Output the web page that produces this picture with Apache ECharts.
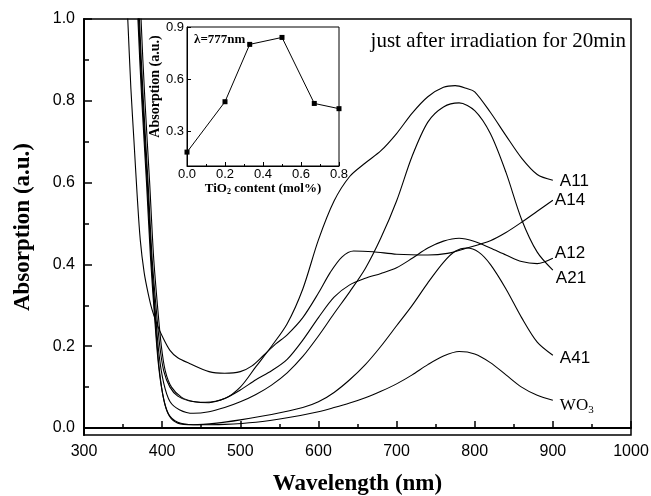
<!DOCTYPE html>
<html>
<head>
<meta charset="utf-8">
<script src="https://cdn.jsdelivr.net/npm/echarts@6.0.0/dist/echarts.min.js"></script>
<style>
  html, body { margin: 0; padding: 0; background: #fff; }
  #main { width: 651px; height: 496px; }
</style>
</head>
<body>
<div id="main"></div>
<script>
// spectra: [wavelength nm, absorption a.u.]
var a11 = [[366,1.3],[371,1.0],[376,0.8],[382,0.6],[387,0.42],[392,0.3],[397,0.2],[402,0.14],[410,0.1],[420,0.078],[435,0.066],[455,0.063],[480,0.072],[500,0.1],[520,0.15],[540,0.2],[560,0.255],[580,0.34],[600,0.46],[620,0.555],[640,0.615],[660,0.648],[680,0.678],[700,0.72],[720,0.77],[740,0.81],[760,0.833],[775,0.837],[790,0.83],[800,0.822],[820,0.772],[840,0.715],[860,0.66],[880,0.62],[900,0.606]];
var a14 = [[350,1.25],[356,1.0],[360,0.83],[364,0.7],[368,0.57],[372,0.46],[377,0.38],[382,0.33],[387,0.29],[393,0.256],[400,0.225],[410,0.19],[420,0.172],[435,0.158],[460,0.138],[480,0.134],[500,0.138],[515,0.152],[530,0.178],[545,0.205],[560,0.228],[580,0.27],[600,0.33],[615,0.38],[630,0.418],[645,0.433],[670,0.431],[700,0.425],[740,0.423],[765,0.427],[790,0.44],[820,0.458],[840,0.478],[860,0.503],[880,0.53],[900,0.557]];
var a12 = [[368,1.3],[373,1.0],[378,0.8],[384,0.6],[389,0.42],[394,0.3],[399,0.2],[404,0.14],[412,0.1],[425,0.075],[440,0.065],[460,0.062],[480,0.072],[500,0.093],[520,0.118],[540,0.14],[560,0.168],[580,0.215],[600,0.27],[620,0.32],[640,0.35],[660,0.366],[680,0.378],[700,0.392],[720,0.415],[740,0.44],[760,0.457],[780,0.464],[800,0.456],[820,0.44],[840,0.423],[860,0.407],[880,0.402],[900,0.415]];
var a21 = [[365,1.3],[370,1.0],[375,0.8],[381,0.6],[386,0.42],[391,0.29],[396,0.18],[402,0.11],[410,0.065],[422,0.045],[440,0.036],[460,0.04],[480,0.05],[500,0.064],[520,0.082],[540,0.105],[560,0.135],[580,0.175],[600,0.225],[620,0.28],[640,0.333],[660,0.39],[680,0.465],[700,0.555],[720,0.665],[740,0.748],[760,0.785],[780,0.795],[800,0.776],[820,0.72],[840,0.625],[860,0.51],[880,0.43],[900,0.386]];
var a41 = [[364,1.3],[369,1.0],[374,0.8],[380,0.6],[385,0.42],[390,0.28],[395,0.16],[401,0.08],[408,0.035],[420,0.014],[440,0.008],[470,0.012],[500,0.02],[540,0.033],[580,0.05],[600,0.064],[620,0.087],[640,0.118],[660,0.155],[680,0.2],[700,0.25],[720,0.3],[740,0.355],[760,0.405],[775,0.432],[790,0.44],[805,0.43],[820,0.4],[840,0.34],[860,0.27],[880,0.21],[900,0.178]];
var wo3 = [[365,1.3],[370,1.0],[375,0.8],[381,0.6],[386,0.42],[391,0.27],[396,0.15],[402,0.07],[409,0.03],[420,0.012],[440,0.008],[480,0.009],[520,0.014],[560,0.025],[600,0.04],[620,0.05],[640,0.061],[660,0.074],[680,0.09],[700,0.108],[720,0.13],[740,0.155],[760,0.176],[780,0.187],[800,0.181],[820,0.16],[840,0.13],[860,0.1],[880,0.08],[900,0.068]];

// inset: absorption at 777 nm vs TiO2 content
var tio2 = [0, 0.2, 0.33, 0.5, 0.67, 0.8];
var abs777 = [0.18, 0.47, 0.80, 0.84, 0.46, 0.43];

var yMajor = [0, 0.2, 0.4, 0.6, 0.8, 1.0];
var yMinor = [0.1, 0.3, 0.5, 0.7, 0.9];
var insetYTicks = [0.3, 0.6, 0.9];

var SANS = 'Liberation Sans, Arial, sans-serif';
var SERIF = 'Liberation Serif, Times New Roman, serif';

var chart = echarts.init(document.getElementById('main'), null, {renderer: 'canvas'});

function spectrum(name, data, dist, dy) {
    return {
        name: name,
        type: 'line',
        xAxisIndex: 0,
        yAxisIndex: 0,
        data: data,
        smooth: 0.3,
        showSymbol: false,
        silent: true,
        lineStyle: {color: '#000', width: 1.1},
        endLabel: {
            show: true,
            distance: dist,
            offset: [0, dy],
            color: '#000',
            fontFamily: SANS,
            fontSize: 17,
            formatter: name === 'WO3' ? '{w|WO}{s|3}' : name,
            rich: {
                w: {fontFamily: SERIF, fontSize: 17, color: '#000', lineHeight: 20},
                s: {fontFamily: SERIF, fontSize: 11, color: '#000', verticalAlign: 'bottom', lineHeight: 20, padding: [11, 0, 0, 0]}
            }
        }
    };
}

var option = {
    animation: false,
    backgroundColor: '#fff',
    grid: [
        {left: 84, right: 20, top: 19, bottom: 61, outerBoundsMode: 'none', containLabel: false,
            show: true, borderColor: '#000', borderWidth: 1.5, backgroundColor: 'transparent'},
        {left: 187, top: 27, width: 152, height: 139, outerBoundsMode: 'none', containLabel: false,
            show: true, borderColor: '#000', borderWidth: 1, backgroundColor: '#fff'}
    ],
    xAxis: [
        {
            gridIndex: 0, type: 'value', min: 300, max: 1000, interval: 100,
            axisLine: {lineStyle: {color: '#000', width: 2}},
            axisTick: {inside: true, length: 7, lineStyle: {color: '#000', width: 1.5}},
            minorTick: {show: true, splitNumber: 2, length: 4, lineStyle: {color: '#000', width: 1.5}},
            splitLine: {show: false},
            axisLabel: {color: '#000', fontFamily: SANS, fontSize: 16, margin: 9, formatter: function(v) { return String(v); }},
            name: 'Wavelength (nm)', nameLocation: 'middle', nameGap: 38,
            nameTextStyle: {color: '#000', fontFamily: SERIF, fontWeight: 'bold', fontSize: 23}
        },
        {
            gridIndex: 1, type: 'value', min: 0, max: 0.8, interval: 0.2,
            axisLine: {lineStyle: {color: '#000', width: 1}},
            axisTick: {inside: true, length: 4, lineStyle: {color: '#000'}},
            minorTick: {show: true, splitNumber: 2, length: 2, lineStyle: {color: '#000'}},
            splitLine: {show: false},
            axisLabel: {color: '#000', fontFamily: SANS, fontSize: 13, margin: 2, formatter: function(v) { return v.toFixed(1); }},
            name: 'TiO{s|2} content (mol%)', nameLocation: 'middle', nameGap: 0,
            nameTextStyle: {
                color: '#000', fontFamily: SERIF, fontWeight: 'bold', fontSize: 13, lineHeight: 14,
                rich: {s: {fontFamily: SERIF, fontWeight: 'bold', fontSize: 8, color: '#000', lineHeight: 14, padding: [6, 0, 0, 0]}}
            }
        }
    ],
    yAxis: [
        {
            gridIndex: 0, type: 'value', position: 'left', min: -0.017, max: 1.0,
            axisLine: {lineStyle: {color: '#000', width: 2}},
            axisTick: {inside: true, length: 8, customValues: yMajor, lineStyle: {color: '#000', width: 1.5}},
            splitLine: {show: false},
            axisLabel: {color: '#000', fontFamily: SANS, fontSize: 16, margin: 9, customValues: yMajor,
                formatter: function(v) { return v.toFixed(1); }},
            name: 'Absorption (a.u.)', nameLocation: 'middle', nameGap: 49,
            nameTextStyle: {color: '#000', fontFamily: SERIF, fontWeight: 'bold', fontSize: 23}
        },
        {
            gridIndex: 0, type: 'value', position: 'left', min: -0.017, max: 1.0,
            axisLine: {show: false},
            axisTick: {inside: true, length: 5, customValues: yMinor, lineStyle: {color: '#000', width: 1.5}},
            splitLine: {show: false},
            axisLabel: {show: false}
        },
        {
            gridIndex: 1, type: 'value', position: 'left', min: 0.1, max: 0.9,
            axisLine: {lineStyle: {color: '#000', width: 1}},
            axisTick: {inside: true, length: 4, customValues: insetYTicks, lineStyle: {color: '#000'}},
            splitLine: {show: false},
            axisLabel: {color: '#000', fontFamily: SANS, fontSize: 13, margin: 3, customValues: insetYTicks,
                formatter: function(v) { return v.toFixed(1); }},
            name: 'Absorption (a.u.)', nameLocation: 'middle', nameGap: 24,
            nameTextStyle: {color: '#000', fontFamily: SERIF, fontWeight: 'bold', fontSize: 14, padding: [0, 0, 0, 20]}
        }
    ],
    graphic: [
        {type: 'text', right: 25, top: 31, style: {text: 'just after irradiation for 20min', fill: '#000', font: '21px ' + SERIF}},
        {type: 'text', left: 194, top: 33, style: {text: 'λ=777nm', fill: '#000', font: 'bold 13px ' + SERIF}}
    ],
    series: [
        spectrum('A11', a11, 7, 1),
        spectrum('A14', a14, 2, 0),
        spectrum('A12', a12, 2, -5),
        spectrum('A21', a21, 3, 8),
        spectrum('A41', a41, 7, 3),
        spectrum('WO3', wo3, 7, 5),
        {
            name: 'inset', type: 'line', xAxisIndex: 1, yAxisIndex: 2,
            data: tio2.map(function(x, i) { return [x, abs777[i]]; }),
            symbol: 'rect', symbolSize: 5, clip: false,
            lineStyle: {color: '#000', width: 1},
            itemStyle: {color: '#000'}
        }
    ]
};

chart.setOption(option);
</script>
</body>
</html>
